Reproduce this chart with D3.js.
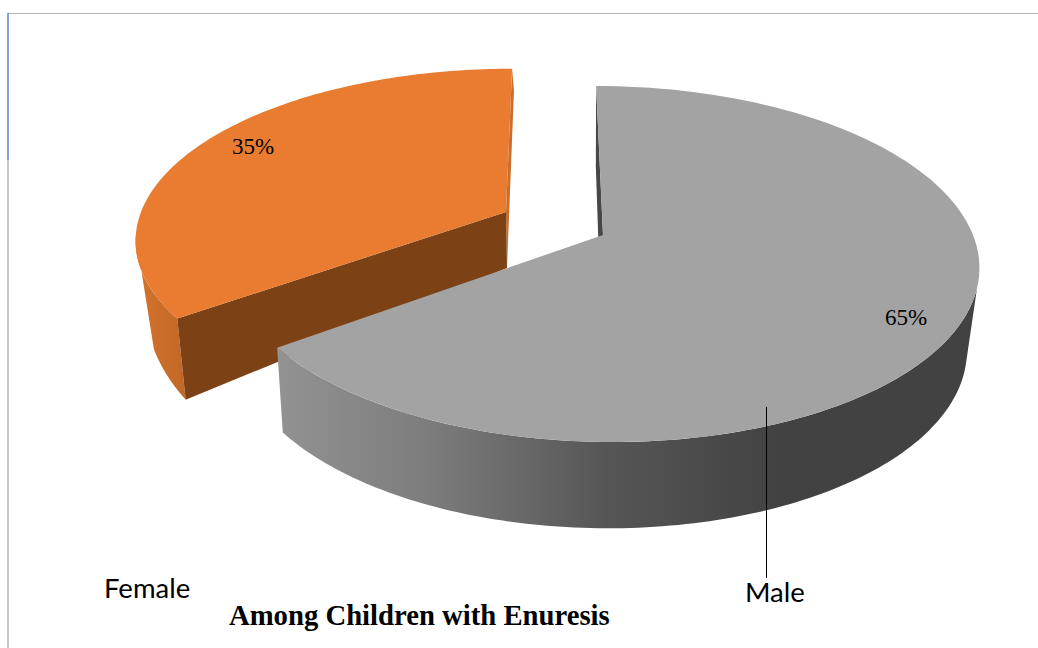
<!DOCTYPE html>
<html><head><meta charset="utf-8">
<script src="https://cdn.jsdelivr.net/npm/d3@7/dist/d3.min.js"></script>
<style>html,body{margin:0;padding:0;background:#fff;overflow:hidden}svg{display:block}</style>
</head><body><svg id="c" width="1038" height="648"></svg>
<script>
const categories = ["Male", "Female"];
const shares = [65, 35];
const shareLabels = ["65%", "35%"];
const titleText = "Among Children with Enuresis";

const svg = d3.select("#c");
const defs = svg.append("defs");
const rad = d3.scaleLinear().domain([0, 360]).range([0, 2 * Math.PI]);

// plane: ax, ay = apex on screen, r, h = radii, sx = shear, k = perspective
// rimTop / rimBot = how far round (degrees) the outer wall stays visible
const planes = {
  Male: {
    top: {ax: 603, ay: 235, r: 370, h: 173.3, sx: -8, k: 0.163},
    bot: {ax: 601, ay: 318, r: 360, h: 176, sx: -6, k: 0.163},
    rimTop: 107, rimBot: 105,
    topColor: "#a3a3a3", sideColor: "#474747", rim: "url(#rimMale)"
  },
  Female: {
    top: {ax: 506, ay: 212, r: 365, h: 165, sx: 7, k: 0.1517},
    bot: {ax: 507, ay: 268, r: 356, h: 204, sx: 8, k: 0.1517},
    rimTop: 262, rimBot: 248,
    topColor: "#e97c30", sideColor: "#c96e2b", cutColor: "#7c4216", rim: "url(#rimFemale)"
  }
};

const gm = defs.append("linearGradient").attr("id", "rimMale")
  .attr("gradientUnits", "userSpaceOnUse").attr("x1", 280).attr("x2", 780).attr("y1", 0).attr("y2", 0);
[[0, "#929292"], [0.3, "#7c7c7c"], [0.65, "#565656"], [1, "#424242"]].forEach(s =>
  gm.append("stop").attr("offset", s[0]).attr("stop-color", s[1]));
const gf = defs.append("linearGradient").attr("id", "rimFemale")
  .attr("gradientUnits", "userSpaceOnUse").attr("x1", 140).attr("x2", 190).attr("y1", 0).attr("y2", 0);
[[0, "#d2722c"], [1, "#c06726"]].forEach(s =>
  gf.append("stop").attr("offset", s[0]).attr("stop-color", s[1]));

const pie = d3.pie().sort(null).value(d => d)(shares);

function proj(p, a) {
  const u = Math.sin(a), v = Math.cos(a), s = 1 / (1 + p.k * v);
  return [p.ax + (p.r * u + p.sx * v) * s, p.ay - p.h * v * s];
}
function arcPts(p, a0, a1) {
  return d3.range(0, 121).map(i => proj(p, a0 + (a1 - a0) * i / 120));
}
const line = d3.line();
const poly = pts => line(pts) + "Z";

// Female slice (drawn first, sits behind)
(function () {
  const d = pie[1], c = planes.Female, a0 = d.startAngle, a1 = d.endAngle;
  const T = c.top, B = c.bot;
  svg.append("path").attr("fill", c.rim)
    .attr("d", poly(arcPts(T, a0, rad(c.rimTop)).concat(arcPts(B, a0, rad(c.rimBot)).reverse())));
  svg.append("path").attr("fill", c.sideColor)
    .attr("d", poly([proj(T, a1), [T.ax, T.ay], [B.ax, B.ay], proj(B, a1)]));
  svg.append("path").attr("fill", c.cutColor)
    .attr("d", poly([proj(T, a0), [T.ax, T.ay], [B.ax, B.ay], proj(B, a0)]));
  svg.append("path").attr("fill", c.topColor)
    .attr("d", poly(arcPts(T, a0, a1).concat([[T.ax, T.ay]])));
})();

// Male slice
(function () {
  const d = pie[0], c = planes.Male, a0 = d.startAngle, a1 = d.endAngle;
  const T = c.top, B = c.bot;
  svg.append("path").attr("fill", c.rim)
    .attr("d", poly(arcPts(T, rad(c.rimTop), a1).concat(arcPts(B, rad(c.rimBot), a1).reverse())));
  svg.append("path").attr("fill", c.sideColor)
    .attr("d", poly([proj(T, a0), [T.ax, T.ay], [B.ax, B.ay], proj(B, a0)]));
  svg.append("path").attr("fill", c.topColor)
    .attr("d", poly(arcPts(T, a0, a1).concat([[T.ax, T.ay]])));
})();

// Frame
svg.append("line").attr("x1", 8).attr("x2", 1038).attr("y1", 13.5).attr("y2", 13.5).attr("stroke", "#b4b4b4").attr("stroke-width", 1.2);
svg.append("line").attr("x1", 8).attr("x2", 8).attr("y1", 160).attr("y2", 648).attr("stroke", "#a8a8a8").attr("stroke-width", 1.3);
svg.append("line").attr("x1", 8).attr("x2", 8).attr("y1", 13).attr("y2", 160).attr("stroke", "#4472c4").attr("stroke-width", 1.3);

// Leader line
svg.append("line").attr("x1", 766.5).attr("x2", 766.5).attr("y1", 407).attr("y2", 578).attr("stroke", "#000").attr("stroke-width", 1);

// Labels
const serif = "'Liberation Serif',serif", sans = "Lato,'Open Sans',sans-serif";
svg.append("text").attr("x", 232).attr("y", 154).attr("font-family", serif).attr("font-size", 23).text(shareLabels[1]);
svg.append("text").attr("x", 885).attr("y", 325).attr("font-family", serif).attr("font-size", 23).text(shareLabels[0]);
svg.append("text").attr("x", 104).attr("y", 598).attr("font-family", sans).attr("font-size", 27.5).text(categories[1]);
svg.append("text").attr("x", 745).attr("y", 602).attr("font-family", sans).attr("font-size", 27.5).text(categories[0]);
svg.append("text").attr("x", 229).attr("y", 625).attr("font-family", serif).attr("font-weight", "bold").attr("font-size", 28.7).text(titleText);
</script></body></html>
